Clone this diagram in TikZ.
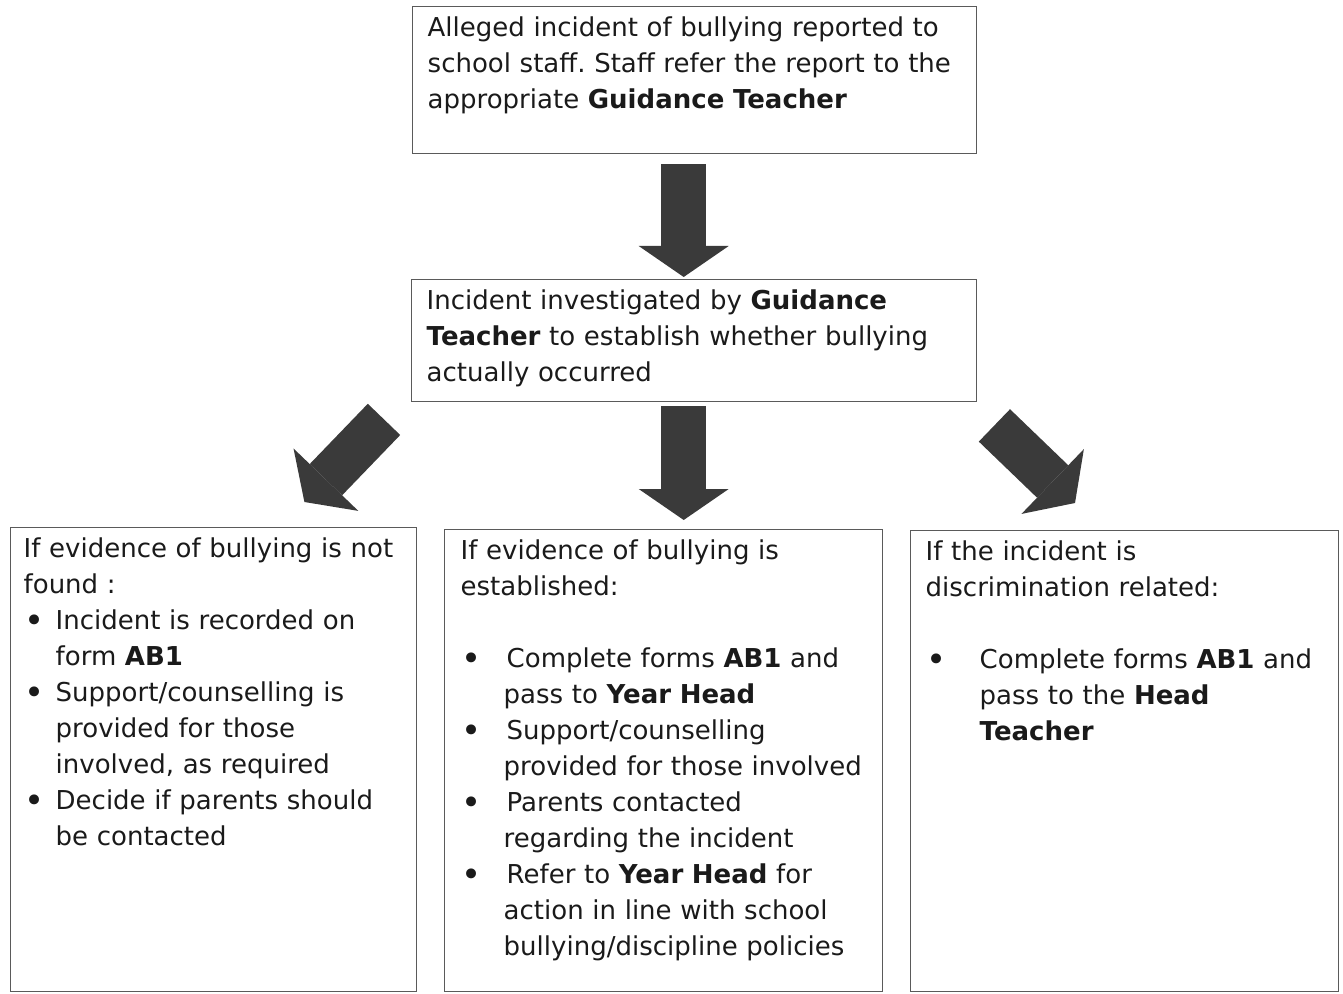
\documentclass[tikz,border=0pt]{standalone}
\usepackage{fontspec}
\setmainfont{DejaVu Sans}
\usepackage{xcolor}
\usetikzlibrary{arrows.meta}
\frenchspacing
\definecolor{boxgrey}{HTML}{5A5A5A}
\definecolor{arrowgrey}{HTML}{3A3A3A}
\definecolor{inkgrey}{HTML}{1A1A1A}
\newcommand{\bul}[2]{\makebox[#1][l]{\hspace{0.5pt}\raisebox{-1.6pt}{\fontsize{17}{18}\selectfont\textbullet}}#2}
\newcommand{\cont}[2]{\hspace*{#1}#2}
\tikzset{
  stage/.style={draw=boxgrey,line width=0.7pt,rectangle,anchor=north west,
    align=left,inner ysep=0pt,text height=15pt,text=inkgrey,
    font=\fontsize{13}{18}\selectfont},
  bigarrow/.style={draw=arrowgrey,line width=22.5pt,
    -{Triangle[width=45pt,length=15.5pt,line width=0pt]}}
}
\begin{document}
\begin{tikzpicture}[x=0.5pt,y=-0.5pt]
  \useasboundingbox (0,0) rectangle (1343,994);

  \node (report) [stage,inner xsep=7.5pt,text width=267pt,text depth=58.5pt] at (412,6)
    {Alleged incident of bullying reported to\\
     school staff. Staff refer the report to the\\
     appropriate \textbf{Guidance Teacher}};
  \node (investigate) [stage,inner xsep=7.5pt,text width=267.5pt,text depth=46pt] at (411,279)
    {Incident investigated by \textbf{Guidance}\\
     \textbf{Teacher} to establish whether bullying\\
     actually occurred};

  \node (notfound) [stage,inner xsep=6.5pt,text width=190pt,text depth=217pt] at (10,527)
    {If evidence of bullying is not\\
     found :\\
     \bul{16pt}{Incident is recorded on}\\
     \cont{16pt}{form \textbf{AB1}}\\
     \bul{16pt}{Support/counselling is}\\
     \cont{16pt}{provided for those}\\
     \cont{16pt}{involved, as required}\\
     \bul{16pt}{Decide if parents should}\\
     \cont{16pt}{be contacted}};
  \node (established) [stage,inner xsep=8pt,text width=203pt,text depth=216pt] at (444,529)
    {If evidence of bullying is\\
     established:\\[18pt]
     \bul{23pt}{Complete forms \textbf{AB1} and}\\
     \cont{21.5pt}{pass to \textbf{Year Head}}\\
     \bul{23pt}{Support/counselling}\\
     \cont{21.5pt}{provided for those involved}\\
     \bul{23pt}{Parents contacted}\\
     \cont{21.5pt}{regarding the incident}\\
     \bul{23pt}{Refer to \textbf{Year Head} for}\\
     \cont{21.5pt}{action in line with school}\\
     \cont{21.5pt}{bullying/discipline policies}};
  \node (discrim) [stage,inner xsep=7.5pt,text width=199pt,text depth=215.5pt] at (910,530)
    {If the incident is\\
     discrimination related:\\[18pt]
     \bul{27pt}{Complete forms \textbf{AB1} and}\\
     \cont{27pt}{pass to the \textbf{Head}}\\
     \cont{27pt}{\textbf{Teacher}}};

  \draw[bigarrow] ([shift={(-11,10)}]report.south) -- ([shift={(-10.5,-2)}]investigate.north);
  \draw[bigarrow] ([shift={(-10.5,4)}]investigate.south) -- ([shift={(20,-9)}]established.north);
  \draw[bigarrow] ([shift={(-27,17)}]investigate.south west) -- ([shift={(-113,-25)}]notfound.north east);
  \draw[bigarrow] ([shift={(17,23)}]investigate.south east) -- ([shift={(165,-27)}]discrim.north west);
\end{tikzpicture}
\end{document}
